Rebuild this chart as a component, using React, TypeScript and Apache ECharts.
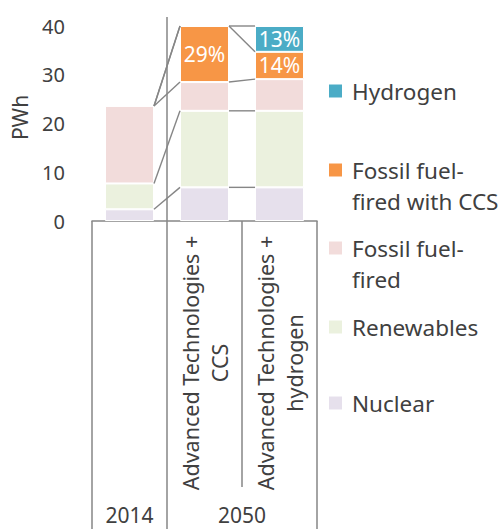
import React, { useEffect, useRef } from 'react';
import * as echarts from 'echarts';

// ---- data ----
const scenarioLabels = ['', 'Advanced Technologies +\nCCS', 'Advanced Technologies +\nhydrogen'];
const yearLabels = ['2014', '2050'];
const yearSpans: [number, number][] = [[0, 0], [1, 2]];
const seriesNames = ['Nuclear', 'Renewables', 'Fossil fuel-fired', 'Fossil fuel-fired with CCS', 'Hydrogen'];
const legendLabels = ['Nuclear', 'Renewables', 'Fossil fuel-\nfired', 'Fossil fuel-\nfired with CCS', 'Hydrogen'];
const nuclear = [2.4, 6.9, 6.9];
const renewables = [5.3, 15.7, 15.7];
const fossil = [15.9, 5.9, 6.5];
const fossilCCS = [0, 11.5, 5.6];
const hydrogen = [0, 0, 5.3];
const seriesValues = [nuclear, renewables, fossil, fossilCCS, hydrogen];
const showShare = [false, false, false, true, true];
const yMin = 0;
const yMax = 40;
const yInterval = 10;
const yName = 'PWh';

// ---- style ----
const colors = ['#e6e0ec', '#ebf1de', '#f2dcdb', '#f79646', '#4bacc6'];
const FONT = "'Noto Sans', 'DejaVu Sans', sans-serif";
const TEXT = '#404040';
const LINE = '#868686';
const GL = 92, GT = 26, GW = 225, GH = 195;
const BAR_W = 49;
const legendRowY = [403, 327, 248, 170, 91];

export default function App() {
  const ref = useRef<HTMLDivElement>(null);
  useEffect(() => {
    if (!ref.current) return;
    const chart = echarts.init(ref.current, undefined, { renderer: 'svg' });
    const n = scenarioLabels.length;
    const totals = scenarioLabels.map((_, i) => seriesValues.reduce((s, arr) => s + arr[i], 0));
    // cumulative tops
    const cum: number[][] = [];
    seriesValues.forEach((arr, s) => {
      cum.push(arr.map((v, i) => (s > 0 ? cum[s - 1][i] : 0) + v));
    });
    const connectorData: number[][] = [];
    cum.forEach((tops) => {
      for (let i = 0; i < n - 1; i++) connectorData.push([i, tops[i], tops[i + 1]]);
    });
    const catW = GW / n;
    const bottom = GT + GH;
    const graphics: any[] = [];
    // axis frame lines
    graphics.push({ type: 'line', shape: { x1: GL, y1: bottom, x2: GL, y2: 529 }, style: { stroke: LINE, lineWidth: 1.5 } });
    graphics.push({ type: 'line', shape: { x1: GL + catW, y1: GT - 9, x2: GL + catW, y2: 529 }, style: { stroke: LINE, lineWidth: 1.5 } });
    graphics.push({ type: 'line', shape: { x1: GL + 2 * catW, y1: bottom, x2: GL + 2 * catW, y2: 487 }, style: { stroke: LINE, lineWidth: 1.5 } });
    graphics.push({ type: 'line', shape: { x1: GL + 3 * catW, y1: bottom, x2: GL + 3 * catW, y2: 529 }, style: { stroke: LINE, lineWidth: 1.5 } });
    yearLabels.forEach((lab, k) => {
      const [a, b] = yearSpans[k];
      graphics.push({
        type: 'text',
        x: GL + ((a + b + 1) / 2) * catW,
        y: 525,
        style: { text: lab, fill: TEXT, font: `21px ${FONT}`, lineHeight: 21, align: 'center', verticalAlign: 'bottom' },
      });
    });
    // legend
    seriesNames.forEach((name, s) => {
      const cy = legendRowY[s];
      graphics.push({ type: 'rect', shape: { x: 329, y: cy - 6.5, width: 13, height: 13 }, style: { fill: colors[s] } });
      graphics.push({
        type: 'text',
        x: 352,
        y: cy - 15.5,
        style: { text: legendLabels[s], fill: TEXT, font: `22.5px ${FONT}`, lineHeight: 31, align: 'left', verticalAlign: 'top' },
      });
    });

    const option: any = {
      animation: false,
      textStyle: { fontFamily: FONT },
      grid: { left: GL, top: GT, width: GW, height: GH, containLabel: false },
      xAxis: {
        type: 'category',
        data: scenarioLabels,
        axisLine: { show: true, lineStyle: { color: LINE, width: 1.5 } },
        axisTick: { show: false },
        axisLabel: {
          rotate: 90,
          interval: 0,
          align: 'center',
          verticalAlign: 'middle',
          margin: 142,
          lineHeight: 29,
          fontSize: 21.5,
          color: TEXT,
          fontFamily: FONT,
        },
      },
      yAxis: {
        type: 'value',
        min: yMin,
        max: yMax,
        interval: yInterval,
        name: yName,
        nameLocation: 'middle',
        nameRotate: 90,
        nameGap: 62,
        nameTextStyle: { fontSize: 21, color: TEXT, fontFamily: FONT, padding: [0, 0, 0, 12] },
        axisLine: { show: false },
        axisTick: { show: false },
        splitLine: { show: false },
        axisLabel: { fontSize: 20, color: TEXT, margin: 27, fontFamily: FONT },
      },
      series: [
        ...seriesNames.map((name, s) => ({
          type: 'bar',
          name,
          stack: 'total',
          barWidth: BAR_W,
          data: seriesValues[s],
          itemStyle: { color: colors[s], borderColor: '#ffffff', borderWidth: 1 },
          label: {
            show: showShare[s],
            position: 'inside',
            color: '#ffffff',
            fontSize: 21,
            lineHeight: 21,
            fontFamily: FONT,
            formatter: (p: any) => (p.value > 0 ? `${Math.round((p.value / totals[p.dataIndex]) * 100)}%` : ''),
          },
        })),
        {
          type: 'custom',
          name: 'series lines',
          data: connectorData,
          encode: { x: 0, y: 1 },
          silent: true,
          z: 5,
          renderItem: (params: any, api: any) => {
            const i = api.value(0);
            const p1 = api.coord([i, api.value(1)]);
            const p2 = api.coord([i + 1, api.value(2)]);
            return {
              type: 'line',
              shape: { x1: p1[0] + BAR_W / 2, y1: p1[1], x2: p2[0] - BAR_W / 2, y2: p2[1] },
              style: { stroke: LINE, lineWidth: 1.4 },
            };
          },
        },
      ],
      graphic: graphics,
    };
    chart.setOption(option);
    return () => chart.dispose();
  }, []);
  return <div ref={ref} style={{ position: 'fixed', left: 0, top: 0, width: 500, height: 529, background: '#fff' }} />;
}
